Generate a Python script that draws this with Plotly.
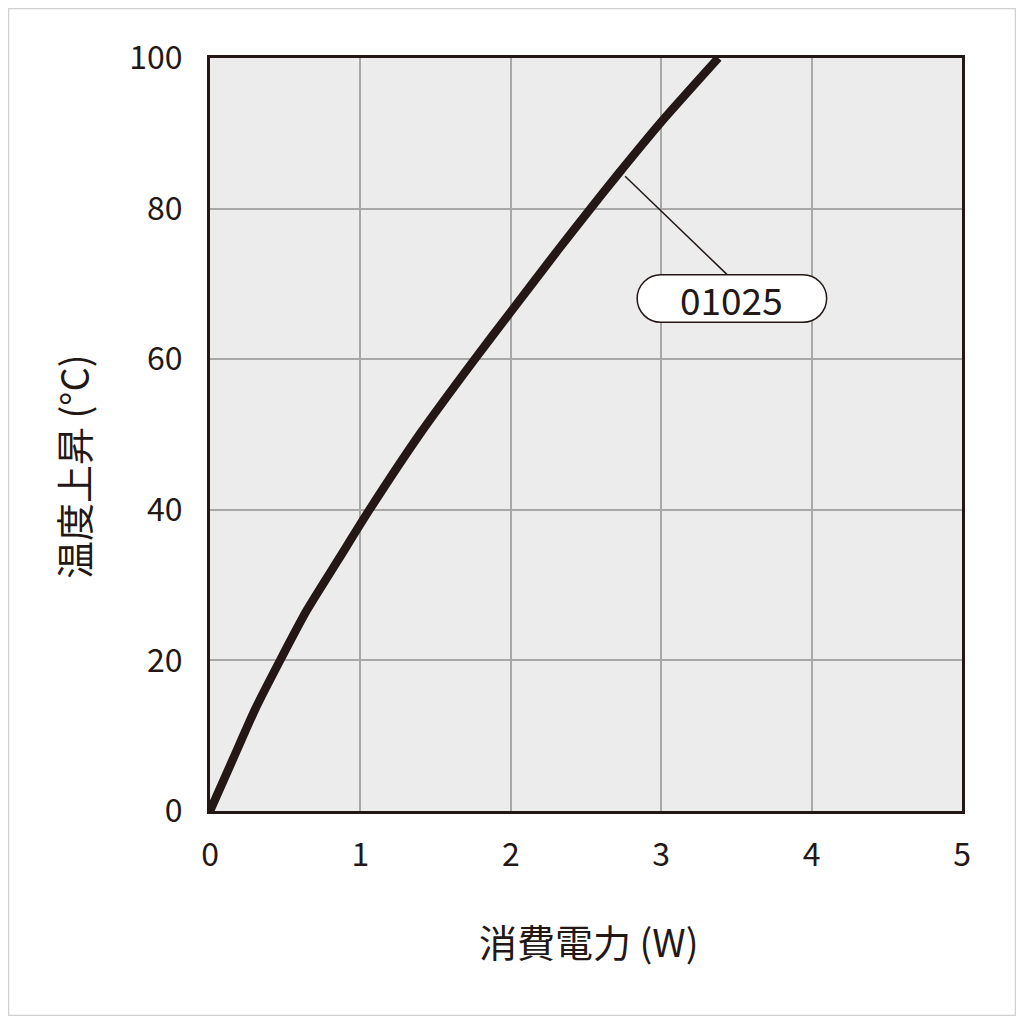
import plotly.graph_objects as go

# 温度上昇カーブ (消費電力 W vs 温度上昇 °C)
power_w = [0, 0.153, 0.30, 0.466, 0.645, 0.86, 1.06, 1.4, 1.76, 2.0, 2.31, 2.53, 2.71, 3.0, 3.38]
temp_rise = [0, 6.9, 13.5, 20, 26.7, 33.6, 40, 50.2, 60, 66.3, 74.4, 80, 84.5, 91.5, 100]

x_ticks = [0, 1, 2, 3, 4, 5]
y_ticks = [0, 20, 40, 60, 80, 100]

series_label = "01025"

INK = "#231815"
GRID = "#a8a8a8"
FONT = "Noto Sans CJK JP"

# page body has an 8px margin, so the figure is drawn 8px in from the window edge
W, H = 1008, 1008
L, T = 202, 50
PW, PH = 752, 753

fig = go.Figure()
fig.add_trace(go.Scatter(
    x=power_w, y=temp_rise, mode="lines",
    line=dict(color=INK, width=8.5, shape="spline", smoothing=0.6),
    cliponaxis=True, showlegend=False, hoverinfo="skip",
))

# leader line from the curve to the label
fig.add_shape(type="line", x0=2.76, y0=84.3, x1=3.44, y1=71.2,
              line=dict(color=INK, width=1.5), layer="above")

# rounded pill around the label (built in data units)
left, right, top, bot = 2.84, 4.10, 71.2, 64.9
ry = (top - bot) / 2
rx = ry * (PH / 100) / (PW / 5)
cy = (top + bot) / 2
k = 0.5523
path = (
    f"M {left+rx},{top} L {right-rx},{top} "
    f"C {right-rx+k*rx},{top} {right},{cy+k*ry} {right},{cy} "
    f"C {right},{cy-k*ry} {right-rx+k*rx},{bot} {right-rx},{bot} "
    f"L {left+rx},{bot} "
    f"C {left+rx-k*rx},{bot} {left},{cy-k*ry} {left},{cy} "
    f"C {left},{cy+k*ry} {left+rx-k*rx},{top} {left+rx},{top} Z"
)
fig.add_shape(type="path", path=path, fillcolor="white",
              line=dict(color=INK, width=1.5), layer="above")
fig.add_annotation(x=(left + right) / 2, y=cy, text=series_label, showarrow=False,
                   xanchor="center", yanchor="middle",
                   font=dict(family=FONT, size=37, color=INK))

# axis titles (positions in window pixels -> paper)
def px(x):
    return (x - 8 - L) / PW

def py(y):
    return (T + PH - (y - 8)) / PH

fig.add_annotation(xref="paper", yref="paper", x=px(589), y=py(940),
                   xanchor="center", yanchor="middle",
                   text="消費電力 (W)", showarrow=False,
                   font=dict(family=FONT, size=38, color=INK))
fig.add_annotation(xref="paper", yref="paper", x=px(73), y=py(467),
                   xanchor="center", yanchor="middle",
                   text="温度上昇 (°C)", textangle=-90, showarrow=False,
                   font=dict(family=FONT, size=38, color=INK))

# light outer frame of the picture
fig.add_shape(type="rect", xref="paper", yref="paper",
              x0=px(8.5), x1=px(1015.5), y0=py(1015.5), y1=py(8.5),
              line=dict(color="#d0d0d0", width=1.5))

axis_common = dict(
    showline=True, linecolor=INK, linewidth=3, mirror=True,
    showgrid=True, gridcolor=GRID, gridwidth=2, zeroline=False,
    tickfont=dict(family=FONT, size=32, color=INK),
    ticks="outside", ticklen=0,
)
fig.update_xaxes(range=[0, 5], tickvals=x_ticks, ticklabelstandoff=14, **axis_common)
fig.update_yaxes(range=[0, 100], tickvals=y_ticks, ticklabelstandoff=18, **axis_common)

fig.update_layout(
    width=W, height=H,
    margin=dict(l=L, r=W - L - PW, t=T, b=H - T - PH),
    paper_bgcolor="white", plot_bgcolor="#ececec",
    font=dict(family=FONT, color=INK),
)
fig.write_html("out.html")
